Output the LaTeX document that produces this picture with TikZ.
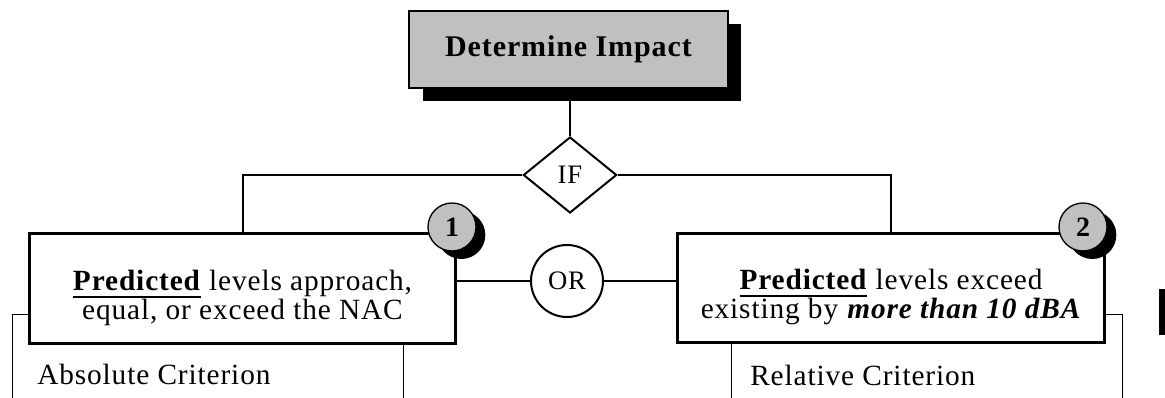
\documentclass[tikz,border=0pt]{standalone}
\usepackage{fontspec}
\setmainfont{Liberation Serif}[LetterSpace=3]
\usetikzlibrary{shapes.geometric,shadows}

\definecolor{boxgray}{HTML}{C0C0C0}
% bold word with a heavy underline
\newlength{\ulwd}
\newcommand{\ulword}[1]{\settowidth{\ulwd}{#1}\rlap{\rule[-6pt]{\ulwd}{1.6pt}}#1}

\begin{document}
\begin{tikzpicture}[x=0.75pt,y=-0.75pt,
	headbox/.style={draw, line width=1.5pt, fill=boxgray, minimum width=239pt, minimum height=57.75pt, inner sep=0pt,
		font=\bfseries\fontsize{22.5}{24}\selectfont,
		drop shadow={shadow xshift=10pt, shadow yshift=-10pt, fill=black, opacity=1}},
	predbox/.style={draw, line width=2.25pt, fill=white, minimum width=320pt, minimum height=82pt, inner sep=0pt},
	predtext/.style={align=center, inner sep=0pt, font=\fontsize{22}{21}\selectfont},
	ifnode/.style={diamond, draw, line width=1.5pt, fill=white, minimum width=70pt, minimum height=57pt, inner sep=0pt,
		font=\fontsize{20}{20}\selectfont},
	ornode/.style={circle, draw, line width=1.5pt, fill=white, minimum size=54pt, inner sep=0pt,
		font=\fontsize{20}{20}\selectfont},
	numnode/.style={circle, draw, line width=1pt, fill=boxgray, minimum size=36pt, inner sep=0pt,
		font=\bfseries\fontsize{21}{21}\selectfont,
		drop shadow={shadow xshift=7pt, shadow yshift=-6pt, fill=black, opacity=1}},
	crit/.style={inner sep=0pt, anchor=base west, font=\fontsize{22}{22}\selectfont},
	link/.style={line width=1.5pt},
	leader/.style={line width=0.6pt}]
	\useasboundingbox (0,0) rectangle (1165,398);
	
	\node[headbox] (head) at (568.5,49.5) {Determine Impact};
	\node[ifnode] (ifd) at (570,175) {IF};
	\draw[link] (ifd.north) -- (ifd.north |- head.south);
	
	\node[predbox] (pred1) at (242.5,288.5) {};
	\node[predtext] (pred1txt) at (242.5,298) {\ulword{\textbf{Predicted}} levels approach,\\equal, or exceed the NAC};
	\node[predbox] (pred2) at (891,288) {};
	\node[predtext] (pred2txt) at (891,297) {\ulword{\textbf{Predicted}} levels exceed\\existing by \textbf{\textit{more than 10 dBA}}};
	\draw[link] (ifd.west) -| (pred1.north);
	\draw[link] (ifd.east) -| (pred2.north);
	
	\node[ornode] (orn) at (567,281) {OR};
	\draw[link] (orn.west) -- (orn.west -| pred1.east);
	\draw[link] (orn.east) -- (orn.east -| pred2.west);
	
	\node[numnode] (num1) at (452,227) {1};
	\node[numnode] (num2) at (1083,227) {2};
	
	% criterion leaders
	\coordinate (absL) at (12,398); \coordinate (absT) at (12,314);
	\coordinate (absR) at (403,398);
	\draw[leader] (absL) -- (absT) -- (absT -| pred1.west);
	\draw[leader] (absR) -- (absR |- pred1.south);
	\node[crit] (abscrit) at (37,385) {Absolute Criterion};
	
	\coordinate (relL) at (731,398);
	\coordinate (relR) at (1122,398); \coordinate (relT) at (1122,314);
	\draw[leader] (relL) -- (relL |- pred2.south);
	\draw[leader] (relR) -- (relT) -- (relT -| pred2.east);
	\node[crit] (relcrit) at (750,386) {Relative Criterion};
	
	\fill (1159,289) rectangle (1165,335);
\end{tikzpicture}
\end{document}
